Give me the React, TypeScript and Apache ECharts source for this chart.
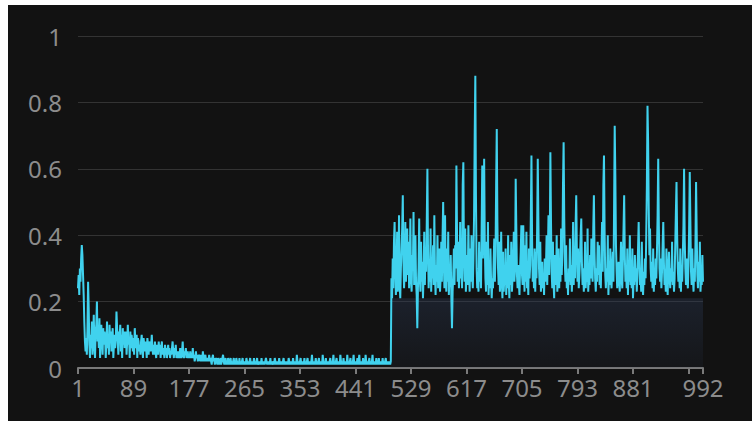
import React, { useEffect, useRef } from "react";
import * as echarts from "echarts";

// Values in hundredths (0.01 units).
// Early decaying phase, points 1..100
const decayHeadPct = [
  24,28,22,30,26,33,37,34,28,22,14,8,5,9,4,12,26,18,7,3,
  10,6,14,4,9,16,7,3,11,13,20,8,12,6,15,3,10,13,8,4,
  12,7,11,9,3,8,14,6,10,4,13,8,11,5,9,12,3,7,10,6,
  9,17,12,8,4,11,9,13,5,10,3,12,7,11,6,9,11,4,8,13,
  7,9,3,11,6,10,8,5,9,4,12,8,6,10,3,9,8,5,7,4,
];
// points 101..240
const decayMidPct = [
  8,10,6,3,9,7,5,8,6,3,9,7,4,8,6,5,7,10,6,4,
  7,4,8,5,3,7,6,4,8,5,7,3,6,8,4,6,5,3,7,4,
  6,3,5,7,4,6,3,5,4,6,8,5,3,6,4,7,3,5,4,3,
  5,3,6,4,3,5,8,4,3,5,4,6,3,4,5,3,4,3,5,3,
  4,3,6,3,4,2,3,5,3,4,2,3,4,3,2,4,3,2,5,3,
  2,3,4,2,3,2,3,2,4,2,3,2,1,3,4,2,3,1,2,3,
  2,1,3,2,1,2,3,1,2,3,4,2,1,2,3,1,2,1,3,2,
];
// points 241..497 (quiet phase)
const quietPct = [
  1,2,3,1,2,1,2,3,1,2,1,3,2,1,2,1,3,1,2,1,
  2,3,1,2,1,2,1,3,2,1,2,1,2,3,1,2,1,2,1,3,
  1,2,1,2,3,1,1,2,1,2,1,3,1,2,1,2,1,1,3,2,
  1,2,1,2,1,3,1,2,1,1,2,1,3,2,1,2,1,2,1,3,
  1,2,1,2,1,2,3,1,2,1,2,1,2,1,3,2,1,2,1,2,
  1,3,1,2,1,2,1,4,2,1,2,1,2,3,1,2,1,2,1,3,
  1,2,1,2,3,1,2,1,2,1,2,4,1,2,1,2,1,3,1,2,
  1,2,3,1,2,1,2,1,4,2,1,2,1,3,1,2,1,2,1,2,
  3,1,2,1,2,4,1,2,1,2,3,1,2,1,2,1,4,2,1,2,
  1,3,1,2,1,2,1,4,1,2,1,2,3,1,2,1,2,4,1,2,
  1,2,1,3,1,2,4,1,2,1,2,1,3,1,2,1,4,2,1,2,
  1,2,3,1,2,1,2,4,1,2,1,2,1,3,1,2,1,3,1,2,
  1,2,1,3,1,2,1,2,3,1,2,1,2,1,2,1,2,
];
// Active phase, points 498..737
const activeAPct = [
  27,21,33,24,38,44,30,22,26,41,23,28,46,25,21,30,36,42,52,32,
  24,29,44,26,33,42,28,38,24,31,45,27,23,34,30,47,25,32,40,26,
  22,12,24,30,45,27,23,38,26,32,21,28,41,25,36,29,44,60,35,24,
  30,26,42,23,32,27,37,25,46,29,22,31,26,40,24,28,36,23,27,38,
  26,39,50,32,24,46,28,23,36,26,41,22,27,25,34,21,12,23,28,36,
  25,37,30,61,40,26,38,24,28,44,27,35,24,55,62,33,26,42,23,28,
  34,25,43,29,23,36,26,40,28,24,33,46,70,88,52,30,24,28,23,38,
  26,35,24,42,61,33,46,63,37,27,23,38,25,44,22,28,24,36,26,21,
  27,24,32,39,26,34,55,72,44,30,25,38,23,28,41,26,21,35,23,27,
  25,36,22,28,24,40,26,21,34,25,38,23,27,32,41,26,30,57,42,28,
  24,31,26,22,30,35,43,28,25,43,33,23,37,26,41,24,28,22,36,27,
  31,46,64,39,26,32,24,36,23,35,27,42,63,45,30,25,38,23,27,32,
];
// Active phase, points 738..992
const activeBPct = [
  24,28,22,33,26,30,40,25,34,46,28,37,65,44,29,24,38,26,21,34,
  33,25,40,23,27,36,24,32,26,42,28,35,55,68,45,31,26,37,24,28,
  22,30,26,39,25,31,23,28,44,25,32,27,43,52,35,26,36,24,28,33,
  40,45,32,25,30,23,27,38,24,29,26,42,23,28,25,34,27,39,31,26,
  42,52,35,27,23,30,26,38,28,37,25,31,24,35,44,29,55,64,41,28,
  24,30,26,40,22,28,25,36,27,24,30,35,26,48,73,58,37,29,24,28,
  32,26,23,30,38,27,24,33,42,52,34,26,30,24,36,22,31,26,40,25,
  28,24,36,21,27,25,34,26,30,23,29,36,44,32,25,28,23,38,26,22,
  29,25,33,27,40,55,79,68,48,34,42,30,26,32,24,36,23,30,25,33,
  27,35,46,63,43,30,26,33,24,29,37,44,32,25,28,23,36,26,22,30,
  35,28,24,30,26,38,25,29,23,27,37,47,56,40,30,26,32,24,36,23,
  31,26,34,43,60,39,30,25,33,27,24,31,42,59,44,29,25,36,27,23,
  30,26,37,56,41,28,24,32,26,38,23,27,25,34,26,
];

const yMin = 0;
const yMax = 1;
const yStep = 0.2;
const labelStep = 88;
const bandTop = 0.21;

export default function App() {
  const ref = useRef<HTMLDivElement>(null);

  useEffect(() => {
    if (!ref.current) return;
    const chart = echarts.init(ref.current, null, { renderer: "svg" });
    const quietEnd = decayHeadPct.length + decayMidPct.length + quietPct.length;
    const values = [
      ...decayHeadPct,
      ...decayMidPct,
      ...quietPct,
      ...activeAPct,
      ...activeBPct,
    ].map((v) => v / 100);
    const categories = values.map((_, i) => String(i + 1));
    const last = values.length - 1;

    const labelColor = "#8c8c8c";
    const font = "'Noto Sans', 'DejaVu Sans', sans-serif";

    chart.setOption({
      animation: false,
      backgroundColor: "#121212",
      grid: { left: 70, right: 49, top: 31, bottom: 53 },
      xAxis: {
        type: "category",
        data: categories,
        boundaryGap: false,
        axisLine: { lineStyle: { color: "#7a7a7a", width: 2 } },
        axisTick: {
          length: 6,
          lineStyle: { color: "#7a7a7a", width: 2 },
          interval: (i: number) => i % labelStep === 0 || i === last,
        },
        axisLabel: {
          color: labelColor,
          fontSize: 24,
          fontFamily: font,
          margin: 7,
          interval: (i: number) =>
            (i % labelStep === 0 && i + labelStep / 2 < last) || i === last,
        },
        splitLine: { show: false },
      },
      yAxis: {
        type: "value",
        min: yMin,
        max: yMax,
        interval: yStep,
        axisLine: { show: false },
        axisTick: { show: false },
        axisLabel: {
          color: labelColor,
          fontSize: 24,
          fontFamily: font,
          margin: 16,
        },
        splitLine: { lineStyle: { color: "#333333", width: 1 } },
      },
      series: [
        {
          type: "line",
          data: values,
          symbol: "none",
          showSymbol: false,
          lineStyle: { color: "#40d2ee", width: 2 },
          itemStyle: { color: "#40d2ee" },
          markArea: {
            silent: true,
            label: { show: false },
            itemStyle: {
              color: new echarts.graphic.LinearGradient(0, 0, 0, 1, [
                { offset: 0, color: "rgba(45,60,90,0.36)" },
                { offset: 1, color: "rgba(45,60,90,0.10)" },
              ]),
            },
            data: [
              [
                { xAxis: categories[quietEnd - 1], yAxis: yMin },
                { xAxis: categories[last], yAxis: bandTop },
              ],
            ],
          },
        },
      ],
    });
    return () => chart.dispose();
  }, []);

  return (
    <div
      ref={ref}
      style={{
        position: "fixed",
        left: 8,
        top: 5,
        width: 744,
        height: 416,
        background: "#121212",
      }}
    />
  );
}
